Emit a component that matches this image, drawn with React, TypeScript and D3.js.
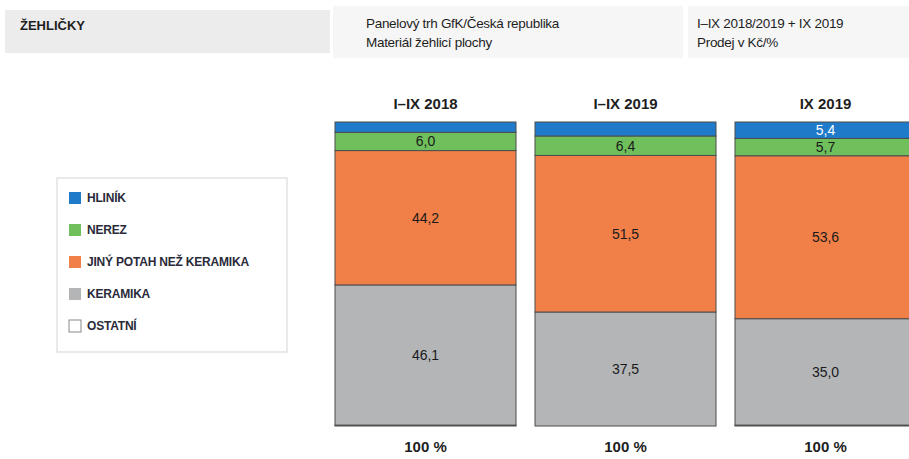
import React, { useEffect, useRef } from 'react';
import * as d3 from 'd3';

// data
const categories = ['I–IX 2018', 'I–IX 2019', 'IX 2019'];
const hlinik = [3.4, 4.6, 5.4];
const nerez = [6.0, 6.4, 5.7];
const jinyPotah = [44.2, 51.5, 53.6];
const keramika = [46.1, 37.5, 35.0];
const ostatni = [0.3, 0.0, 0.3];
const totals = ['100 %', '100 %', '100 %'];

const seriesNames = ['HLINÍK', 'NEREZ', 'JINÝ POTAH NEŽ KERAMIKA', 'KERAMIKA', 'OSTATNÍ'];
const seriesColors = ['#1f7bc9', '#6fc05c', '#f07f48', '#b3b5b7', '#ffffff'];
const seriesValues = [hlinik, nerez, jinyPotah, keramika, ostatni];

const W = 909;
const H = 459;

const fmt = (v: number) => d3.format('.1f')(v).replace('.', ',');

const App: React.FC = () => {
  const svgRef = useRef<SVGSVGElement | null>(null);

  useEffect(() => {
    if (!svgRef.current) return;
    const svg = d3.select(svgRef.current);
    svg.selectAll('*').remove();

    const font = '"Liberation Sans", Arial, sans-serif';

    // header bands
    svg.append('rect').attr('x', 5).attr('y', 10).attr('width', 325).attr('height', 43).attr('fill', '#ececec');
    svg.append('rect').attr('x', 333).attr('y', 6).attr('width', 350).attr('height', 52).attr('fill', '#f6f6f6');
    svg.append('rect').attr('x', 688).attr('y', 6).attr('width', 221).attr('height', 52).attr('fill', '#f6f6f6');

    svg.append('text').attr('x', 20).attr('y', 30).text('ŽEHLIČKY')
      .attr('font-family', font).attr('font-size', 13).attr('font-weight', 'bold').attr('fill', '#1e1e1e');

    const headLines: [number, number, string][] = [
      [366, 28, 'Panelový trh GfK/Česká republika'],
      [366, 47, 'Materiál žehlicí plochy'],
      [697, 28, 'I–IX 2018/2019 + IX 2019'],
      [697, 47, 'Prodej v Kč/%'],
    ];
    svg.append('g').selectAll('text').data(headLines).join('text')
      .attr('x', d => d[0]).attr('y', d => d[1]).text(d => d[2])
      .attr('font-family', font).attr('font-size', 13.5).attr('letter-spacing', -0.3).attr('fill', '#1e1e1e');

    // scales
    const x = d3.scaleBand<string>().domain(categories).range([335, 916]).paddingInner(0.095).paddingOuter(0);
    const y = d3.scaleLinear().domain([0, 100]).range([426, 122]);

    // stack from bottom (OSTATNÍ) to top (HLINÍK)
    const rows = categories.map((c, i) => {
      const r: any = { cat: c };
      seriesNames.forEach((s, k) => { r[s] = seriesValues[k][i]; });
      return r;
    });
    const keys = [...seriesNames].reverse();
    const stacked = d3.stack<any>().keys(keys)(rows);

    const color = d3.scaleOrdinal<string, string>().domain(seriesNames).range(seriesColors);

    const layers = svg.append('g').selectAll('g').data(stacked).join('g')
      .attr('fill', d => color(d.key));

    layers.selectAll('rect').data(d => d.map(p => ({ p, key: d.key }))).join('rect')
      .attr('x', d => x(d.p.data.cat) as number)
      .attr('y', d => y(d.p[1]))
      .attr('width', x.bandwidth())
      .attr('height', d => Math.max(0, y(d.p[0]) - y(d.p[1])))
      .attr('stroke', '#4d4d4d')
      .attr('stroke-width', 1);

    // value labels
    const labels: { x: number; y: number; t: string; key: string }[] = [];
    stacked.forEach(layer => {
      layer.forEach(p => {
        const v = p[1] - p[0];
        if (v >= 5) {
          labels.push({
            x: (x(p.data.cat) as number) + x.bandwidth() / 2,
            y: (y(p[0]) + y(p[1])) / 2,
            t: fmt(v),
            key: layer.key,
          });
        }
      });
    });
    svg.append('g').selectAll('text').data(labels).join('text')
      .attr('x', d => d.x).attr('y', d => d.y).attr('dy', '0.36em')
      .attr('text-anchor', 'middle').text(d => d.t)
      .attr('font-family', font).attr('font-size', 14)
      .attr('fill', d => (d.key === 'HLINÍK' ? '#ffffff' : '#1a1a1a'));

    // column titles and totals
    svg.append('g').selectAll('text').data(categories).join('text')
      .attr('x', d => (x(d) as number) + x.bandwidth() / 2).attr('y', 109)
      .attr('text-anchor', 'middle').text(d => d)
      .attr('font-family', font).attr('font-size', 15).attr('font-weight', 'bold').attr('fill', '#1e1e1e');

    svg.append('g').selectAll('text').data(categories).join('text')
      .attr('x', d => (x(d) as number) + x.bandwidth() / 2).attr('y', 452)
      .attr('text-anchor', 'middle').text((d, i) => totals[i])
      .attr('font-family', font).attr('font-size', 15).attr('font-weight', 'bold').attr('fill', '#1e1e1e');

    // legend
    const lg = svg.append('g');
    lg.append('rect').attr('x', 57).attr('y', 178).attr('width', 230).attr('height', 174)
      .attr('fill', '#ffffff').attr('stroke', '#e2e2e2').attr('stroke-width', 1.5);
    const item = lg.selectAll('g').data(seriesNames).join('g')
      .attr('transform', (d, i) => `translate(69,${198 + i * 32})`);
    item.append('rect').attr('x', 0).attr('y', -6).attr('width', 12).attr('height', 12)
      .attr('fill', d => color(d))
      .attr('stroke', d => (d === 'OSTATNÍ' ? '#8a8a8a' : 'none'));
    item.append('text').attr('x', 18).attr('y', 0).attr('dy', '0.35em').text(d => d)
      .attr('font-family', font).attr('font-size', 12).attr('font-weight', 'bold')
      .attr('letter-spacing', -0.2).attr('fill', '#2a2a3a');
  }, []);

  return (
    <svg
      ref={svgRef}
      width={W}
      height={H}
      viewBox={`0 0 ${W} ${H}`}
      style={{ position: 'absolute', left: 0, top: 0, display: 'block', background: '#ffffff' }}
    />
  );
};

export default App;
